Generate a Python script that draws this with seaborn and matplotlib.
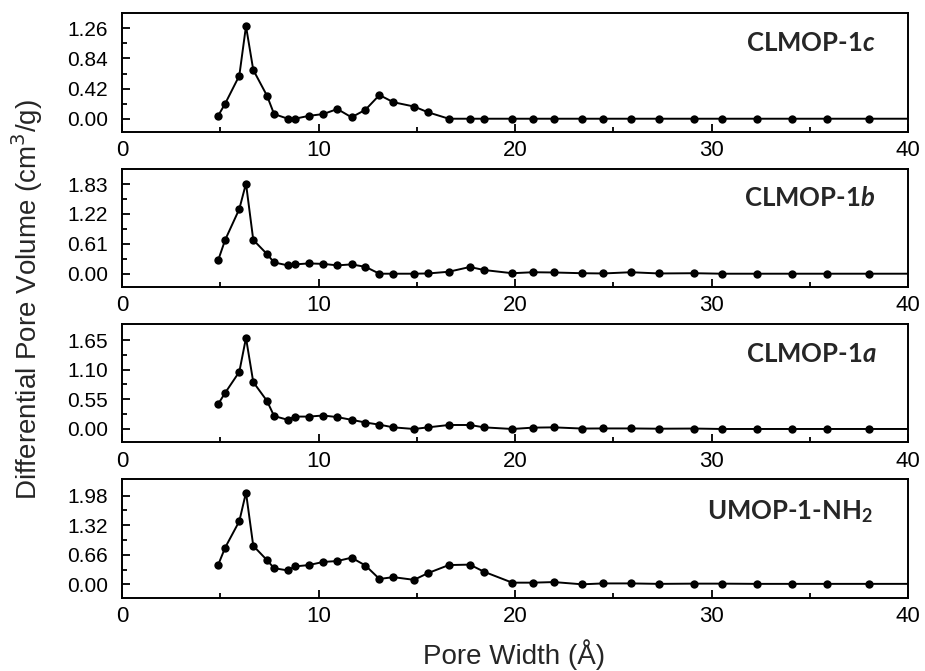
import matplotlib
matplotlib.use("Agg")
import matplotlib.pyplot as plt
import seaborn as sns
import numpy as np
import pandas as pd
from matplotlib.ticker import MultipleLocator, FixedLocator

pore_width = [4.89, 5.25, 5.97, 6.31, 6.68, 7.38, 7.74, 8.44, 8.80, 9.51,
              10.24, 10.96, 11.68, 12.39, 13.10, 13.81, 14.86, 15.57, 16.63, 17.70,
              18.43, 19.86, 20.91, 21.98, 23.42, 24.48, 25.90, 27.33, 29.12, 30.54,
              32.32, 34.11, 35.89, 38.04, 41.0]

clmop_1c = [0.04, 0.21, 0.60, 1.29, 0.68, 0.32, 0.065, 0.0, 0.0, 0.04,
            0.065, 0.135, 0.02, 0.125, 0.33, 0.23, 0.17, 0.09, 0.0, 0.0,
            0.0, 0.0, 0.0, 0.0, 0.0, 0.0, 0.0, 0.0, 0.0, 0.0,
            0.0, 0.0, 0.0, 0.0, 0.0]

clmop_1b = [0.27, 0.69, 1.32, 1.84, 0.69, 0.40, 0.23, 0.17, 0.19, 0.21,
            0.20, 0.17, 0.19, 0.14, 0.0, 0.0, 0.0, 0.005, 0.04, 0.137,
            0.075, 0.01, 0.03, 0.025, 0.01, 0.005, 0.03, 0.005, 0.01, 0.0,
            0.0, 0.0, 0.0, 0.0, 0.0]

clmop_1a = [0.46, 0.67, 1.06, 1.69, 0.87, 0.52, 0.24, 0.17, 0.23, 0.23,
            0.25, 0.22, 0.17, 0.12, 0.08, 0.03, 0.0, 0.03, 0.074, 0.074,
            0.03, 0.0, 0.025, 0.03, 0.008, 0.01, 0.01, 0.005, 0.008, 0.0,
            0.0, 0.0, 0.0, 0.0, 0.0]

umop_1_nh2 = [0.43, 0.82, 1.41, 2.05, 0.86, 0.54, 0.36, 0.31, 0.40, 0.43,
              0.50, 0.52, 0.595, 0.42, 0.12, 0.16, 0.10, 0.25, 0.43, 0.44,
              0.28, 0.037, 0.037, 0.05, 0.0, 0.02, 0.02, 0.01, 0.015, 0.015,
              0.01, 0.01, 0.01, 0.01, 0.01]

labels = [r"CLMOP-1$\boldsymbol{c}$", r"CLMOP-1$\boldsymbol{b}$",
          r"CLMOP-1$\boldsymbol{a}$", r"UMOP-1-NH$_\mathbf{2}$"]
yticks = [[0.00, 0.42, 0.84, 1.26],
          [0.00, 0.61, 1.22, 1.83],
          [0.00, 0.55, 1.10, 1.65],
          [0.00, 0.66, 1.32, 1.98]]
ylims = [(-0.185, 1.473), (-0.265, 2.136), (-0.247, 1.947), (-0.299, 2.346)]
series = [clmop_1c, clmop_1b, clmop_1a, umop_1_nh2]

sns.set_theme(style="white")
plt.rcParams['font.family'] = ['Liberation Sans', 'DejaVu Sans']
plt.rcParams['mathtext.fontset'] = 'custom'
plt.rcParams['mathtext.rm'] = 'Lato'
plt.rcParams['mathtext.it'] = 'Lato:italic'
plt.rcParams['mathtext.bf'] = 'Lato:bold'
plt.rcParams['mathtext.bfit'] = 'Lato:bold:italic'

W, H = 925, 671
fig = plt.figure(figsize=(W / 100, H / 100), dpi=100)

tops = [13, 169, 324, 479.3]
bottoms = [132, 286.7, 442.3, 597.7]
left, right = 122, 908
label_y = [0.75, 0.75, 0.75, 0.73]
label_x = [0.958, 0.958, 0.960, 0.955]

for i in range(4):
    ax = fig.add_axes([left / W, 1 - bottoms[i] / H, (right - left) / W,
                       (bottoms[i] - tops[i]) / H])
    df = pd.DataFrame({"x": pore_width, "y": series[i]})
    sns.lineplot(data=df, x="x", y="y", ax=ax, color="black", marker="o",
                 markersize=6, markeredgewidth=0, linewidth=1.4, sort=False)
    ax.set_xlim(0, 40)
    ax.set_ylim(*ylims[i])
    ax.xaxis.set_major_locator(MultipleLocator(10))
    ax.xaxis.set_minor_locator(MultipleLocator(5))
    ax.yaxis.set_major_locator(FixedLocator(yticks[i]))
    step = yticks[i][1] / 2
    ax.yaxis.set_minor_locator(FixedLocator([step * k for k in range(1, 7, 2)]))
    ax.set_yticklabels([f"{v:.2f}" for v in yticks[i]])
    ax.tick_params(axis="both", which="major", direction="in", length=6,
                   width=1.3, labelsize=15, color="black", labelcolor="black",
                   bottom=True, left=True)
    ax.tick_params(axis="both", which="minor", direction="in", length=3.5,
                   width=1.3, color="black", bottom=True, left=True)
    ax.tick_params(axis="y", pad=10)
    ax.tick_params(axis="x", pad=6, labelsize=16)
    for s in ax.spines.values():
        s.set_color("black")
        s.set_linewidth(1.4)
    ax.set_xlabel("")
    ax.set_ylabel("")
    ax.text(label_x[i], label_y[i], labels[i], transform=ax.transAxes,
            ha="right", va="center", fontsize=18.5, fontweight="bold",
            family="Lato")

fig.text(514 / W, 1 - 655 / H, "Pore Width (Å)", ha="center", va="center",
         fontsize=20)
fig.text(27 / W, 1 - 300 / H, "Differential Pore Volume (cm$^3$/g)",
         ha="center", va="center", rotation=90, fontsize=20,
         math_fontfamily='dejavusans')

fig.savefig("out.png", dpi=100)
